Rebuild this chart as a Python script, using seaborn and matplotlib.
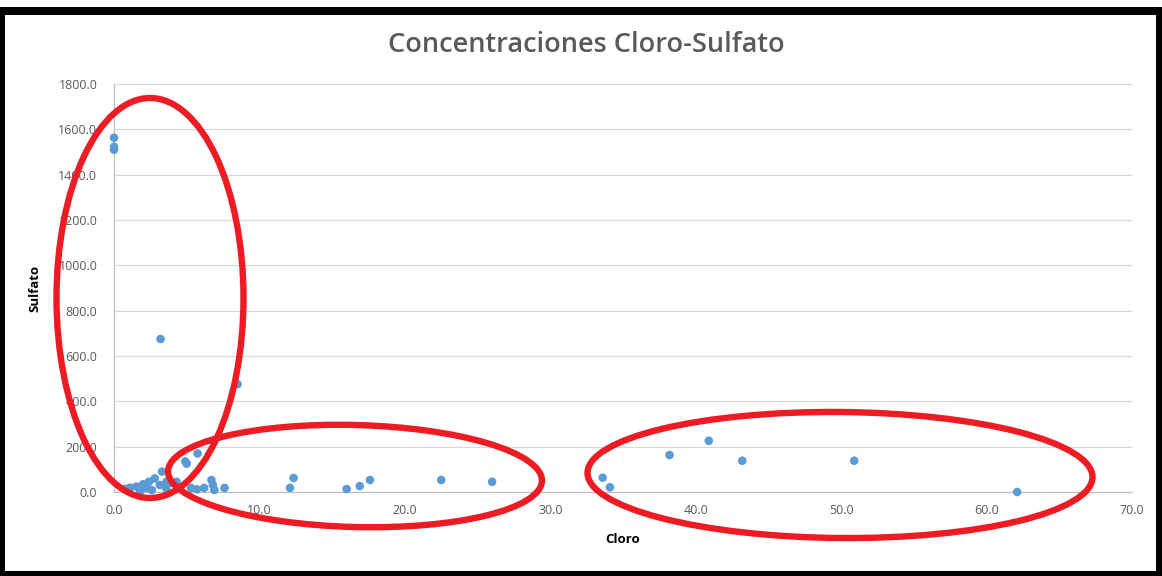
import matplotlib
matplotlib.use("Agg")
import matplotlib.pyplot as plt
from matplotlib.patches import Ellipse, Rectangle
from matplotlib.ticker import FormatStrFormatter, MultipleLocator
import pandas as pd
import seaborn as sns

# Chloride / sulfate concentrations per sample
cloro = [0.0, 0.0, 0.0, 3.2, 8.5,
         5.75, 4.9, 5.0, 3.3, 2.8, 2.4, 2.0, 1.55, 1.1, 0.75, 1.8, 2.6,
         3.15, 3.6, 3.6, 4.3, 5.3, 5.7, 6.2, 6.7, 6.8, 6.9, 7.6, 4.0, 2.2,
         12.1, 12.35, 16.0, 16.9, 17.6, 22.5, 26.0,
         33.6, 34.1, 38.2, 40.9, 43.2, 50.9, 62.1]
sulfato = [1563, 1523, 1510, 675, 476,
           170, 135, 125, 90, 60, 45, 34, 24, 19, 14, 3, 9,
           31, 45, 16, 45, 18, 12, 18, 53, 31, 9, 18, 40, 18,
           18, 62, 13, 26, 53, 53, 45,
           63, 21, 163, 226, 138, 138, 0]

title = "Concentraciones Cloro-Sulfato"
x_label = "Cloro"
y_label = "Sulfato"

# Highlight rings around the three groups (centre px, width px, height px, angle)
ring_centres = [(150, 298), (355, 476), (840, 475)]
ring_sizes = [(187, 400), (374, 102), (505, 126)]
ring_angles = [0.0, -1.5, -0.5]

W, H, DPI = 1162, 576, 100

sns.set_theme(style="white")
plt.rcParams["font.family"] = ["Open Sans", "DejaVu Sans"]

df = pd.DataFrame({x_label: cloro, y_label: sulfato})

fig = plt.figure(figsize=(W / DPI, H / DPI), dpi=DPI)
fig.patch.set_facecolor("white")
ax = fig.add_axes([114 / W, 1 - 492 / H, (1132 - 114) / W, (492 - 84) / H])

sns.scatterplot(data=df, x=x_label, y=y_label, ax=ax, color="#5B9BD5",
                s=38, edgecolor="none", linewidth=0, clip_on=False, zorder=3)

ax.set_xlim(0, 70)
ax.set_ylim(0, 1800)
ax.xaxis.set_major_locator(MultipleLocator(10))
ax.yaxis.set_major_locator(MultipleLocator(200))
ax.xaxis.set_major_formatter(FormatStrFormatter("%.1f"))
ax.yaxis.set_major_formatter(FormatStrFormatter("%.1f"))
ax.grid(axis="y", color="#D9D9D9", linewidth=0.9)
ax.grid(axis="x", visible=False)
ax.set_axisbelow(True)
for side in ("top", "right"):
    ax.spines[side].set_visible(False)
for side in ("left", "bottom"):
    ax.spines[side].set_color("#BFBFBF")
    ax.spines[side].set_linewidth(0.9)
ax.tick_params(axis="both", length=0, labelsize=9, labelcolor="#595959")
ax.tick_params(axis="x", pad=9)
ax.tick_params(axis="y", pad=12)

ax.set_xlabel(x_label, fontsize=9.5, fontweight="bold", color="black", labelpad=11)
ax.set_ylabel(y_label, fontsize=9.5, fontweight="bold", color="black", labelpad=12)

fig.text(586 / W, 1 - 45 / H, title, ha="center", va="center",
         fontsize=19.5, color="#595959", fontweight="semibold")

# Red rings drawn in pixel space so they can spill over the axes
for (cx, cy), (w, h), ang in zip(ring_centres, ring_sizes, ring_angles):
    fig.add_artist(Ellipse((cx / DPI, (H - cy) / DPI), w / DPI, h / DPI, angle=ang,
                           transform=fig.dpi_scale_trans, fill=False,
                           edgecolor="#ED1C24", linewidth=4.6, zorder=10))

# Black frame around the chart
frame_kw = dict(transform=fig.dpi_scale_trans, color="black", zorder=11, linewidth=0)
fig.add_artist(Rectangle((0, (H - 15) / DPI), W / DPI, 8 / DPI, **frame_kw))
fig.add_artist(Rectangle((0, 0), W / DPI, 5 / DPI, **frame_kw))
fig.add_artist(Rectangle((0, 0), 5 / DPI, (H - 7) / DPI, **frame_kw))
fig.add_artist(Rectangle(((W - 6) / DPI, 0), 6 / DPI, (H - 7) / DPI, **frame_kw))

fig.savefig("out.png", dpi=DPI)
